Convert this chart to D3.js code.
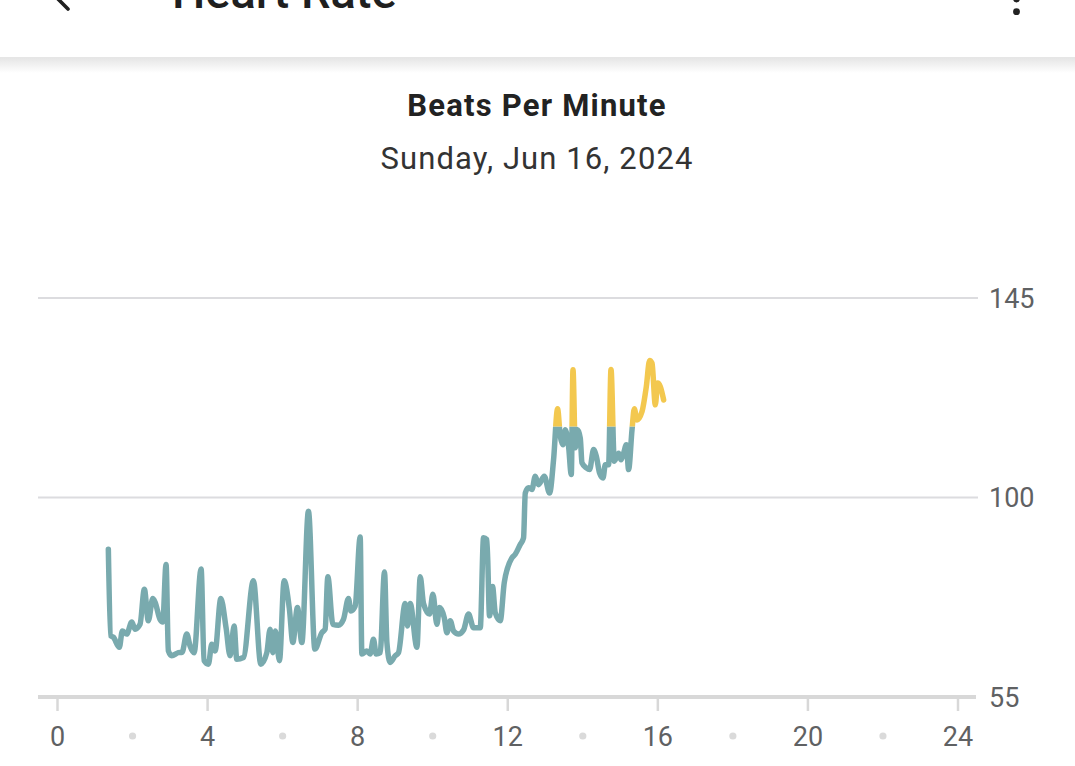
<!DOCTYPE html>
<html>
<head>
<meta charset="utf-8">
<script src="https://cdn.jsdelivr.net/npm/d3@7"></script>
<style>
  html, body { margin: 0; padding: 0; background: #ffffff; }
  svg { display: block; font-family: Roboto, "Noto Sans", sans-serif; }
</style>
</head>
<body>
<svg id="chart" width="1075" height="766"></svg>
<script>
// ---- data ----
const hours = [1.355,1.419,1.488,1.648,1.728,1.845,1.979,2.067,2.2,2.315,2.421,2.539,2.6,2.733,2.805,2.893,2.955,3.045,3.221,3.32,
  3.445,3.533,3.64,3.827,3.907,4.021,4.112,4.2,4.352,4.493,4.6,4.707,4.779,4.955,5.221,5.419,5.579,5.667,5.739,5.808,
  5.915,6.04,6.181,6.272,6.395,6.512,6.688,6.86,7.045,7.133,7.205,7.339,7.488,7.621,7.755,7.819,7.933,8.067,8.112,8.245,
  8.333,8.421,8.493,8.6,8.715,8.779,8.867,9.0,9.088,9.267,9.328,9.4,9.579,9.667,9.755,9.915,10.005,10.112,10.181,10.307,
  10.379,10.467,10.555,10.688,10.821,10.955,11.088,11.267,11.355,11.445,11.515,11.595,11.667,11.8,11.907,12.112,12.2,12.333,12.421,12.467,
  12.555,12.645,12.733,12.821,12.973,13.115,13.221,13.328,13.4,13.472,13.533,13.621,13.693,13.739,13.8,13.861,13.933,13.979,14.093,14.181,
  14.288,14.36,14.448,14.539,14.6,14.688,14.752,14.84,14.955,15.019,15.088,15.16,15.221,15.312,15.373,15.445,15.579,15.693,15.781,15.845,
  15.933,15.995,16.067,16.155];
const bpm = [88.3,68.8,68.5,66.2,69.9,69.2,71.9,70.3,71.4,79.3,72.2,77.2,76.4,72.5,71.9,84.9,65.4,64.3,65.0,65.1,
  69.2,66.5,65.0,83.9,63.2,62.4,66.9,65.4,77.2,70.6,64.3,71.0,63.5,63.9,81.2,62.4,65.0,70.3,65.0,69.9,
  63.2,81.2,74.8,67.3,75.2,67.3,96.9,65.8,69.5,70.3,82.1,71.4,71.2,72.5,77.2,74.4,75.5,91.1,64.7,65.4,
  64.7,68.0,64.7,65.0,83.2,67.3,62.8,64.3,65.0,76.1,71.0,76.1,66.2,82.1,76.1,73.7,78.2,71.4,75.2,72.9,
  69.5,72.2,69.9,69.2,70.1,73.7,70.6,70.6,90.9,90.5,73.3,79.9,74.0,72.2,80.8,86.4,87.2,89.4,90.9,101.0,
  102.2,101.8,104.8,102.9,104.8,101.0,108.5,120.0,113.8,111.9,115.3,111.5,105.2,128.8,111.2,115.3,113.4,107.8,106.7,106.3,
  110.8,109.3,105.5,104.4,107.4,107.4,128.9,108.2,110.0,108.5,110.0,111.9,106.3,115.3,120.0,117.5,119.4,125.0,130.9,130.3,
  120.9,125.8,125.0,122.0];
const threshold = 116;
const yTicks = [55, 100, 145];
const xTicks = [0, 4, 8, 12, 16, 20, 24];
const xDots = [2, 6, 10, 14, 18, 22];
const appTitle = "Heart Rate";
const chartTitle = "Beats Per Minute";
const chartSubtitle = "Sunday, Jun 16, 2024";

// ---- drawing ----
const svg = d3.select("#chart");
const W = 1075, H = 766;
const x = d3.scaleLinear().domain([0, 24]).range([57.5, 958]);
const y = d3.scaleLinear().domain([55, 145]).range([697, 298]);

const defs = svg.append("defs");
const grad = defs.append("linearGradient").attr("id", "shadow").attr("x1", 0).attr("y1", 0).attr("x2", 0).attr("y2", 1);
grad.append("stop").attr("offset", "0%").attr("stop-color", "#e4e4e4");
grad.append("stop").attr("offset", "100%").attr("stop-color", "#ffffff");

svg.append("rect").attr("x", 0).attr("y", 0).attr("width", W).attr("height", H).attr("fill", "#ffffff");
// app bar
svg.append("rect").attr("x", 0).attr("y", 57).attr("width", W).attr("height", 16).attr("fill", "url(#shadow)");
svg.append("rect").attr("x", 0).attr("y", 0).attr("width", W).attr("height", 57).attr("fill", "#ffffff");
svg.append("line").attr("x1", 0).attr("x2", W).attr("y1", 57.5).attr("y2", 57.5).attr("stroke", "#e6e6e6").attr("stroke-width", 1);
svg.append("path").attr("d", "M68,9 L55,-4").attr("stroke", "#202020").attr("stroke-width", 3.6)
  .attr("stroke-linecap", "round").attr("fill", "none");
svg.append("text").attr("x", 172).attr("y", 8).attr("font-size", 47).attr("font-weight", 500)
  .attr("fill", "#1f1f1f").text(appTitle);
[-1, 11.7].forEach(cy => svg.append("circle").attr("cx", 1016.5).attr("cy", cy).attr("r", 3.4).attr("fill", "#222"));

// titles
svg.append("text").attr("x", 537).attr("y", 116).attr("text-anchor", "middle")
  .attr("font-size", 31).attr("font-weight", 700).attr("letter-spacing", 1.2).attr("fill", "#222222").text(chartTitle);
svg.append("text").attr("x", 537).attr("y", 169).attr("text-anchor", "middle")
  .attr("font-size", 31).attr("font-weight", 400).attr("letter-spacing", 1.1).attr("fill", "#333333").text(chartSubtitle);

// gridlines
yTicks.filter(v => v !== 55).forEach(v => {
  svg.append("line").attr("x1", 38).attr("x2", 978).attr("y1", y(v)).attr("y2", y(v))
    .attr("stroke", "#dcdcdf").attr("stroke-width", 2);
});
// baseline
svg.append("line").attr("x1", 38).attr("x2", 976).attr("y1", y(55)).attr("y2", y(55))
  .attr("stroke", "#d8d8d8").attr("stroke-width", 4);
// y labels
yTicks.forEach(v => {
  svg.append("text").attr("x", 989).attr("y", y(v)).attr("dy", "0.36em")
    .attr("font-size", 27).attr("fill", "#5f6163").text(v);
});
// x axis ticks & labels
xTicks.forEach(v => {
  svg.append("line").attr("x1", x(v)).attr("x2", x(v)).attr("y1", 699).attr("y2", 711)
    .attr("stroke", "#d8d8d8").attr("stroke-width", 2.5);
  svg.append("text").attr("x", x(v)).attr("y", 746).attr("text-anchor", "middle")
    .attr("font-size", 27).attr("fill", "#5f6163").text(v);
});
xDots.forEach(v => {
  svg.append("circle").attr("cx", x(v)).attr("cy", 736).attr("r", 3.6).attr("fill", "#dadada");
});

// line with threshold colouring
const pts = hours.map((h, i) => [h, bpm[i]]);
const line = d3.line().x(d => x(d[0])).y(d => y(d[1])).curve(d3.curveMonotoneX);
defs.append("clipPath").attr("id", "below").append("rect")
  .attr("x", 0).attr("y", y(threshold)).attr("width", W).attr("height", H - y(threshold));
defs.append("clipPath").attr("id", "above").append("rect")
  .attr("x", 0).attr("y", 0).attr("width", W).attr("height", y(threshold));
svg.append("path").datum(pts).attr("d", line).attr("fill", "none")
  .attr("stroke", "#79aaae").attr("stroke-width", 5.5).attr("stroke-linejoin", "round").attr("stroke-linecap", "round")
  .attr("clip-path", "url(#below)");
svg.append("path").datum(pts).attr("d", line).attr("fill", "none")
  .attr("stroke", "#f3c84f").attr("stroke-width", 5.5).attr("stroke-linejoin", "round").attr("stroke-linecap", "round")
  .attr("clip-path", "url(#above)");
</script>
</body>
</html>
